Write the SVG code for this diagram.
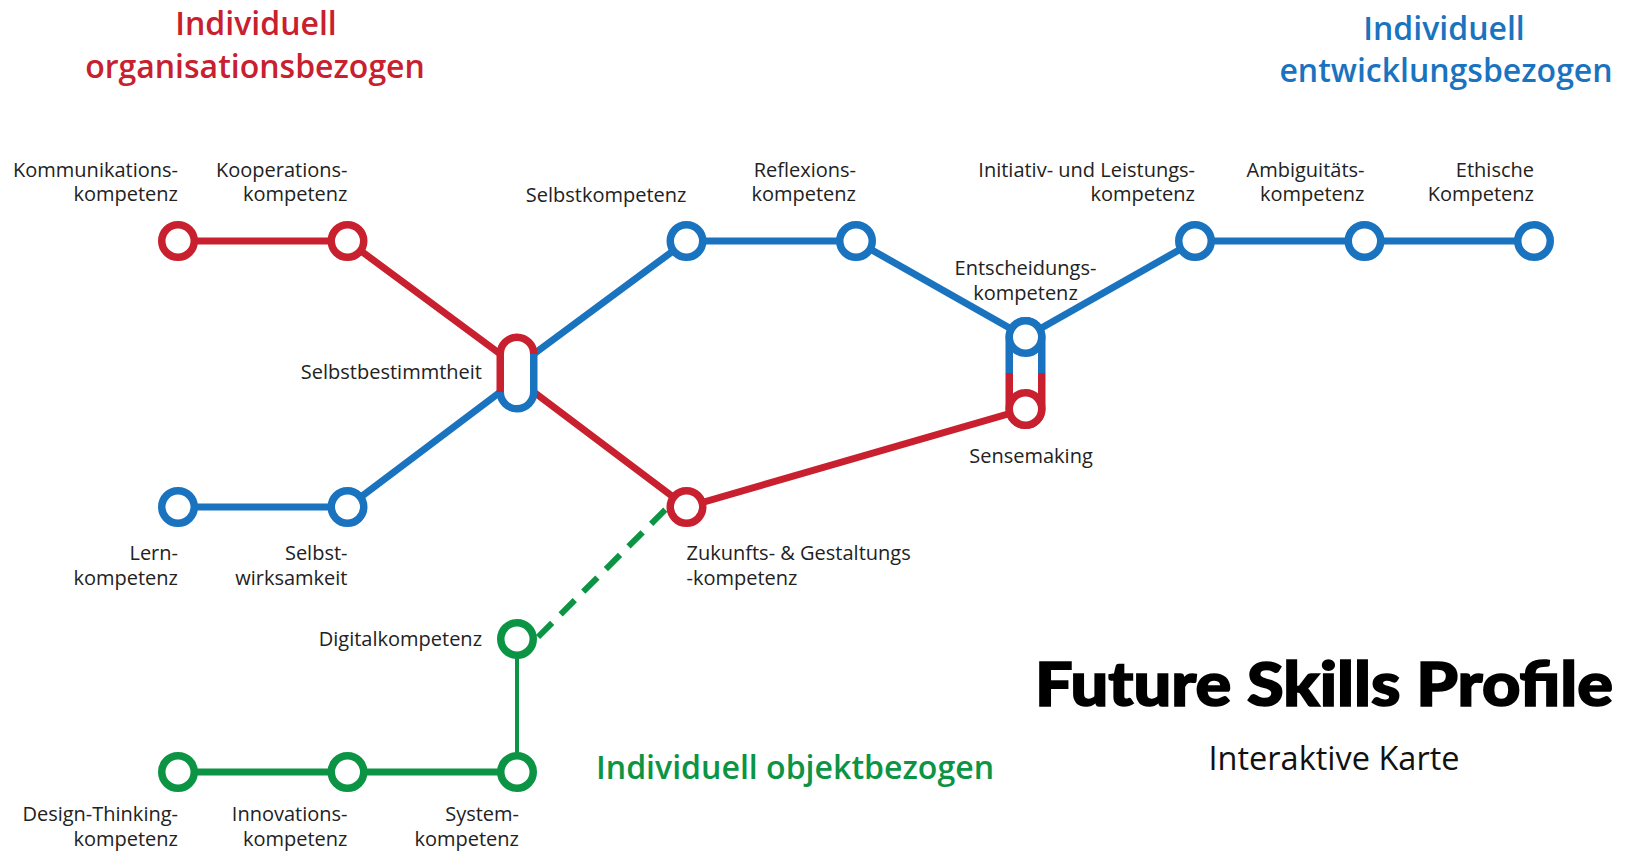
<svg xmlns="http://www.w3.org/2000/svg" width="1640" height="854" viewBox="0 0 1640 854">
<style>
  .lbl { font-family: "Open Sans", "Noto Sans", "Liberation Sans", sans-serif; font-size: 20px; fill: #222; }
  .end { text-anchor: end; }
  .mid { text-anchor: middle; }
  .ttl { font-family: "Open Sans", "Noto Sans", "Liberation Sans", sans-serif; font-size: 32px; font-weight: 600; }
  .red { stroke: #c8202e; }
  .blue { stroke: #1a73bf; }
  .green { stroke: #0b9444; }
  .ln { fill: none; stroke-width: 7; }
  .ring { fill: #fff; stroke-width: 7.5; }
  .arc { fill: none; stroke-width: 7.5; }
</style>
<rect width="1640" height="854" fill="#fff"/>

<!-- Titles -->
<text class="ttl mid" x="256" y="35" fill="#c8202e">Individuell</text>
<text class="ttl mid" x="255" y="78" fill="#c8202e">organisationsbezogen</text>
<text class="ttl mid" x="1444" y="40" fill="#1a73bf">Individuell</text>
<text class="ttl mid" x="1446" y="82" fill="#1a73bf">entwicklungsbezogen</text>
<text class="ttl" x="596" y="779" fill="#0b9444" textLength="398" lengthAdjust="spacingAndGlyphs">Individuell objektbezogen</text>
<text x="1035" y="706" font-family="Lato, Inter, 'Liberation Sans', sans-serif" font-size="60" font-weight="900" fill="#000" stroke="#000" stroke-width="1.6" textLength="578" lengthAdjust="spacingAndGlyphs">Future Skills Profile</text>
<text x="1334" y="770" font-family="'Open Sans', 'Noto Sans', 'Liberation Sans', sans-serif" font-size="32" fill="#111" text-anchor="middle" textLength="251" lengthAdjust="spacingAndGlyphs">Interaktive Karte</text>

<!-- Connectors -->
<g id="connectors">
  <polyline class="ln red" points="178,241 347.5,241 500.25,354"/>
  <polyline class="ln red" points="533.75,392 686.5,507 1025.5,409"/>
  <polyline class="ln blue" points="178,507 347.5,507 500.25,392"/>
  <polyline class="ln blue" points="533.75,354 686.5,241 856,241 1025.5,337 1195,241 1364.5,241 1534,241"/>
  <polyline class="ln green" points="178,772 347.5,772 517,772"/>
  <line class="green" x1="517" y1="639" x2="517" y2="772" stroke-width="4"/>
  <line class="green" x1="538" y1="637" x2="667" y2="508" stroke-width="6" stroke-dasharray="20 12"/>
</g>

<!-- Red nodes -->
<g id="kommunikation">
  <circle class="ring red" cx="178" cy="241" r="16.25"/>
  <text class="lbl end" x="178" y="177">Kommunikations-</text>
  <text class="lbl end" x="178" y="201">kompetenz</text>
</g>
<g id="kooperation">
  <circle class="ring red" cx="347.5" cy="241" r="16.25"/>
  <text class="lbl end" x="347.5" y="177">Kooperations-</text>
  <text class="lbl end" x="347.5" y="201">kompetenz</text>
</g>
<g id="selbstbestimmtheit">
  <rect x="500.25" y="337" width="33.5" height="72" rx="16.75" fill="#fff"/>
  <path class="arc red" d="M500.25,392 L500.25,354 A16.75,16.75 0 0 1 533.75,354"/>
  <path class="arc blue" d="M533.75,354 L533.75,392 A16.75,16.75 0 0 1 500.25,392"/>
  <text class="lbl end" x="482" y="379">Selbstbestimmtheit</text>
</g>
<g id="zukunft">
  <circle class="ring red" cx="686.5" cy="507" r="16.25"/>
  <text class="lbl" x="686.5" y="560">Zukunfts- &amp; Gestaltungs</text>
  <text class="lbl" x="686.5" y="585">-kompetenz</text>
</g>

<!-- Blue nodes -->
<g id="lern">
  <circle class="ring blue" cx="178" cy="507" r="16.25"/>
  <text class="lbl end" x="178" y="560">Lern-</text>
  <text class="lbl end" x="178" y="585">kompetenz</text>
</g>
<g id="selbstwirksamkeit">
  <circle class="ring blue" cx="347.5" cy="507" r="16.25"/>
  <text class="lbl end" x="347.5" y="560">Selbst-</text>
  <text class="lbl end" x="347.5" y="585">wirksamkeit</text>
</g>
<g id="selbstkompetenz">
  <circle class="ring blue" cx="686.5" cy="241" r="16.25"/>
  <text class="lbl end" x="686.5" y="202">Selbstkompetenz</text>
</g>
<g id="reflexion">
  <circle class="ring blue" cx="856" cy="241" r="16.25"/>
  <text class="lbl end" x="856" y="177">Reflexions-</text>
  <text class="lbl end" x="856" y="201">kompetenz</text>
</g>
<g id="entscheidung-sensemaking">
  <rect x="1009.25" y="320.75" width="32.5" height="104.5" rx="16.25" fill="#fff"/>
  <path class="arc blue" d="M1009.25,373 L1009.25,337 A16.25,16.25 0 0 1 1041.75,337 L1041.75,373"/>
  <path class="arc red" d="M1041.75,373 L1041.75,409 A16.25,16.25 0 0 1 1009.25,409 L1009.25,373"/>
  <circle class="ring blue" cx="1025.5" cy="337" r="16.25"/>
  <circle class="ring red" cx="1025.5" cy="409" r="16.25"/>
  <text class="lbl mid" x="1025.5" y="275">Entscheidungs-</text>
  <text class="lbl mid" x="1025.5" y="300">kompetenz</text>
  <text class="lbl mid" x="1031" y="463">Sensemaking</text>
</g>
<g id="initiativ">
  <circle class="ring blue" cx="1195" cy="241" r="16.25"/>
  <text class="lbl end" x="1195" y="177">Initiativ- und Leistungs-</text>
  <text class="lbl end" x="1195" y="201">kompetenz</text>
</g>
<g id="ambiguitaet">
  <circle class="ring blue" cx="1364.5" cy="241" r="16.25"/>
  <text class="lbl end" x="1364.5" y="177">Ambiguitäts-</text>
  <text class="lbl end" x="1364.5" y="201">kompetenz</text>
</g>
<g id="ethisch">
  <circle class="ring blue" cx="1534" cy="241" r="16.25"/>
  <text class="lbl end" x="1534" y="177">Ethische</text>
  <text class="lbl end" x="1534" y="201">Kompetenz</text>
</g>

<!-- Green nodes -->
<g id="digital">
  <circle class="ring green" cx="517" cy="639" r="16.25"/>
  <text class="lbl end" x="482" y="646">Digitalkompetenz</text>
</g>
<g id="design-thinking">
  <circle class="ring green" cx="178" cy="772" r="16.25"/>
  <text class="lbl end" x="178" y="821">Design-Thinking-</text>
  <text class="lbl end" x="178" y="846">kompetenz</text>
</g>
<g id="innovation">
  <circle class="ring green" cx="347.5" cy="772" r="16.25"/>
  <text class="lbl end" x="347.5" y="821">Innovations-</text>
  <text class="lbl end" x="347.5" y="846">kompetenz</text>
</g>
<g id="system">
  <circle class="ring green" cx="517" cy="772" r="16.25"/>
  <text class="lbl end" x="519" y="821">System-</text>
  <text class="lbl end" x="519" y="846">kompetenz</text>
</g>
</svg>
